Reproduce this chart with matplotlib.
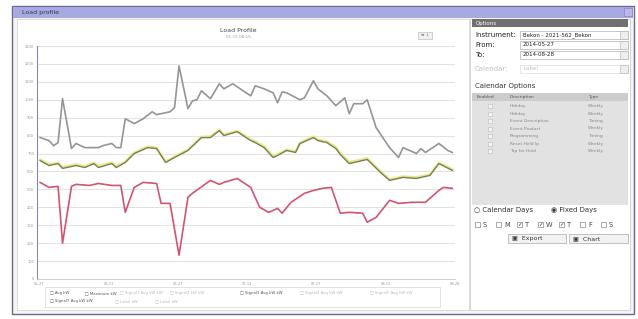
import numpy as np
import matplotlib
matplotlib.use("Agg")
import matplotlib.pyplot as plt
from matplotlib.patches import Rectangle

# ---- data (day offset from 2014-05-27, kW) ----
gray_days = [0, 2, 3, 4, 5, 7, 8, 10, 13, 14, 16, 17, 18, 19, 21, 23, 25, 26, 29, 30,
             31, 33, 34, 35, 36, 38, 40, 41, 43, 47, 48, 50, 52, 53, 54, 55, 58, 59,
             61, 62, 64, 66, 68, 69, 70, 72, 73, 75, 78, 80, 81, 84, 85, 86, 89, 91, 92]
gray_vals = [789, 772, 744, 761, 1006, 728, 756, 733, 733, 744, 756, 733, 733, 894, 867,
             894, 933, 917, 933, 956, 1189, 950, 994, 1000, 1050, 1006, 1089, 1061, 1089,
             1022, 1078, 1061, 1039, 983, 1044, 1039, 1000, 1011, 1106, 1061, 1022, 967,
             1011, 922, 978, 978, 1000, 844, 733, 678, 733, 700, 728, 706, 756, 717, 706]

olive_days = [0, 2, 4, 5, 8, 10, 12, 13, 16, 17, 19, 21, 24, 26, 28, 30, 33, 36, 38, 40,
              41, 44, 47, 48, 50, 52, 53, 55, 57, 58, 61, 62, 64, 66, 67, 69, 72, 73, 76,
              78, 81, 84, 87, 89, 92]
olive_vals = [661, 633, 644, 617, 633, 622, 644, 622, 644, 622, 650, 700, 733, 728, 650,
              678, 717, 789, 789, 828, 800, 822, 772, 761, 733, 678, 689, 717, 706, 756,
              789, 772, 761, 728, 694, 644, 661, 667, 594, 550, 567, 561, 578, 644, 606]
yellow_vals = [665, 640, 648, 625, 640, 630, 648, 630, 650, 628, 655, 705, 738, 732, 655,
               683, 722, 793, 795, 832, 806, 826, 778, 768, 740, 685, 695, 722, 712, 760,
               794, 778, 768, 735, 702, 652, 668, 673, 600, 556, 572, 567, 583, 648, 612]

red_days = [0, 2, 4, 5, 7, 8, 11, 13, 16, 18, 19, 21, 23, 26, 27, 29, 31, 33, 34, 38, 40,
            41, 44, 47, 49, 51, 53, 54, 56, 59, 61, 63, 65, 67, 69, 72, 73, 75, 78, 80,
            83, 86, 89, 90, 92]
red_vals = [539, 511, 517, 200, 517, 528, 522, 533, 522, 522, 372, 511, 539, 533, 422,
            422, 133, 456, 478, 550, 528, 539, 561, 511, 400, 372, 394, 367, 428, 478,
            494, 506, 511, 367, 372, 367, 317, 344, 439, 422, 428, 428, 494, 511, 506]

y_ticks = list(range(0, 1301, 100))
x_tick_labels = ["05-27", "06-11", "06-27", "07-12", "07-27", "08-12", "08-28"]

legend_row1 = [("Avg kW", "#555555"), ("Maximum kW", "#555555"),
               ("Signal1 Avg kW kW", "#b8b8b8"), ("Signal2 kW kW", "#b8b8b8"),
               ("Signal3 Avg kW kW", "#555555"), ("Signal4 Avg kW kW", "#b8b8b8"),
               ("Signal5 Avg kW kW", "#b8b8b8")]
legend_row2 = [("Signal7 Avg kW kW", "#555555"), ("Label kW", "#b8b8b8"),
               ("Label kW", "#b8b8b8")]

cal_rows = [("Holiday", "Weekly"), ("Holiday", "Weekly"), ("Event Description", "Timing"),
            ("Event Product", "Weekly"), ("Programming", "Timing"),
            ("Reset Hold Ip", "Weekly"), ("Tap for Hold", "Weekly")]
weekdays = ["S", "M", "T", "W", "T", "F", "S"]
weekday_checked = [False, False, True, True, True, False, False]

W, H = 638, 319
fig = plt.figure(figsize=(W / 100, H / 100), dpi=100)
fig.patch.set_facecolor("white")

# UI layer in pixel coordinates
ui = fig.add_axes([0, 0, 1, 1])
ui.set_xlim(0, W)
ui.set_ylim(H, 0)
ui.axis("off")

def box(x, y, w, h, fc, ec="none", lw=0.6, z=1):
    ui.add_patch(Rectangle((x, y), w, h, facecolor=fc, edgecolor=ec, lw=lw, zorder=z))

def txt(x, y, s, size=4.5, color="#333333", **kw):
    ui.text(x, y, s, fontsize=size, color=color, va="center", zorder=5, **kw)

# window frame
box(12, 6, 622, 308, "#f4f4f4", "#6a6a8a", lw=1.0)
box(13, 7, 620, 11, "#a8a8e2")
txt(22, 12.5, "Load profile", size=4.5, color="#333355")
box(624, 8, 8, 8, "#b8b8ea", "#8888c0", lw=0.5, z=2)
box(17, 19, 452, 291, "white", "#d8d8d8", lw=0.6)
box(470, 19, 160, 291, "white", "#d0d0d0", lw=0.6)

# chart titles and buttons
txt(238, 31, "Load Profile", size=4.5, color="#444444", ha="center")
txt(238, 37, "01-15 08:15", size=3, color="#999999", ha="center")
box(418, 32, 14, 7, "#f0f0f0", "#c0c0c0", lw=0.5)
txt(425, 35.5, "\u2261 \u2193", size=3, color="#777777", ha="center")

# legend box
box(45, 287, 395, 20, "white", "#dddddd", lw=0.6)
lx = [50, 85, 120, 170, 240, 300, 370]
for (s, c), x in zip(legend_row1, lx):
    txt(x, 293, "\u25a1 " + s, size=2.8, color=c)
for (s, c), x in zip(legend_row2, [50, 115, 155]):
    txt(x, 301, "\u25a1 " + s, size=2.8, color=c)

# right options panel
box(472, 19, 156, 8, "#707070")
txt(476, 23, "Options", size=4, color="white")
fields = [("Instrument:", "Bekon - 2021-562_Bekon", 35, "#222222"),
          ("From:", "2014-05-27", 45, "#222222"),
          ("To:", "2014-08-28", 55, "#222222"),
          ("Calendar:", "Label", 69, "#c0c0c0")]
for lab, val, y, c in fields:
    txt(475, y, lab, size=5, color=c)
    box(520, y - 4, 108, 8, "white", "#b0b0b0" if c != "#c0c0c0" else "#dddddd", lw=0.5)
    txt(523, y, val, size=4, color=c)
    box(620, y - 4, 8, 8, "#eeeeee", "#b0b0b0", lw=0.4)
txt(475, 86, "Calendar Options", size=5, color="#333333")
box(472, 93, 156, 112, "#e2e2e2")
box(472, 93, 156, 8, "#cccccc")
txt(477, 97, "Enabled", size=3.2, color="#555555")
txt(510, 97, "Description", size=3.2, color="#555555")
txt(588, 97, "Type", size=3.2, color="#555555")
for i, (d, t) in enumerate(cal_rows):
    y = 106 + i * 7.5
    box(488, y - 2, 4, 4, "#f4f4f4", "#bbbbbb", lw=0.4, z=2)
    txt(510, y, d, size=3.2, color="#888888")
    txt(588, y, t, size=3.2, color="#888888")
txt(474, 210, "\u25cb Calendar Days", size=5, color="#333333")
txt(551, 210, "\u25c9 Fixed Days", size=5, color="#333333")
for i, (d, chk) in enumerate(zip(weekdays, weekday_checked)):
    x = 475 + i * 21
    box(x, 222, 5, 5, "white", "#888888", lw=0.5, z=2)
    if chk:
        txt(x + 2.5, 224.5, "\u2713", size=4, color="#333333", ha="center")
    txt(x + 8, 225, d, size=4.8, color="#444444")
box(508, 234, 58, 9, "#f2f2f2", "#aaaaaa", lw=0.5)
txt(512, 238.5, "\u25a3  Export", size=4.5, color="#333333")
box(569, 234, 59, 9, "#f2f2f2", "#aaaaaa", lw=0.5)
txt(573, 238.5, "\u25a3  Chart", size=4.5, color="#333333")

# chart axes
ax = fig.add_axes([37 / W, (H - 279) / H, 418 / W, 233 / H])
ax.set_facecolor("none")
ax.plot(gray_days, gray_vals, color="#959595", lw=1.2, zorder=3)
ax.plot(olive_days, yellow_vals, color="#e6ea8c", lw=1.8, zorder=3)
ax.plot(olive_days, olive_vals, color="#7d7d55", lw=1.0, zorder=4)
ax.plot(red_days, red_vals, color="#cf5570", lw=1.2, zorder=3)
ax.set_xlim(-0.7, 92)
ax.set_ylim(0, 1300)
ax.set_yticks(y_ticks)
ax.set_yticklabels([str(v) for v in y_ticks])
ax.set_xticks(np.linspace(-0.2, 92.6, len(x_tick_labels)))
ax.set_xticklabels(x_tick_labels)
ax.tick_params(axis="both", labelsize=2.6, colors="#999999", length=0, pad=2)
ax.grid(axis="y", color="#e3e3e3", lw=0.8)
ax.set_axisbelow(True)
for s in ["top", "right"]:
    ax.spines[s].set_visible(False)
ax.spines["left"].set_color("#8a8aa8")
ax.spines["left"].set_linewidth(0.8)
ax.spines["bottom"].set_color("#c8c8c8")
ax.spines["bottom"].set_linewidth(0.6)

fig.savefig("out.png", dpi=100)
